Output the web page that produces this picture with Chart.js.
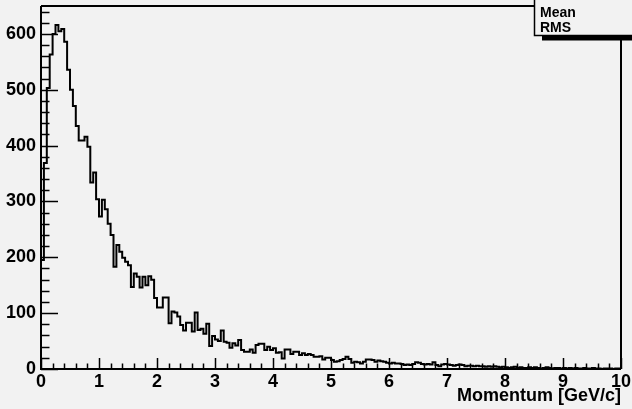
<!DOCTYPE html>
<html><head><meta charset="utf-8">
<script src="https://cdn.jsdelivr.net/npm/chart.js@4"></script>
<style>html,body{margin:0;padding:0;background:#f2f2f2;}canvas{display:block}</style>
</head><body>
<canvas id="c" width="632" height="409"></canvas>
<script>
// ---- data ----
const binWidth = 0.05;
const xStart = 0;
const counts = [
  30, 195, 369, 503, 563, 600, 616, 605, 609, 586,
  536, 500, 471, 435, 409, 409, 416, 398, 334, 352,
  304, 273, 303, 286, 260, 240, 183, 222, 210, 199,
  192, 186, 147, 171, 165, 146, 165, 150, 166, 160,
  127, 110, 110, 128, 128, 82, 103, 101, 94, 79,
  69, 83, 83, 67, 101, 70, 72, 63, 81, 41,
  59, 53, 50, 69, 49, 47, 38, 46, 42, 52,
  34, 31, 31, 35, 29, 43, 45, 45, 34, 40,
  34, 37, 29, 30, 19, 35, 35, 27, 31, 31,
  25, 28, 25, 27, 25, 22, 22, 23, 17, 20,
  20, 16, 13, 14, 16, 18, 22, 18, 11, 13,
  12, 10, 13, 17, 17, 16, 13, 15, 14, 13,
  11, 10, 11, 10, 10, 9, 7, 8, 7, 9,
  12, 11, 9, 8, 9, 8, 12, 7, 5, 8,
  9, 8, 7, 6, 7, 8, 7, 5, 6, 6,
  5, 6, 5, 5, 4, 5, 4, 5, 4, 3,
  4, 3, 2, 3, 4, 2, 3, 2, 2, 3,
  2, 3, 2, 1, 2, 3, 2, 1, 2, 2,
  1, 2, 1, 2, 1, 2, 1, 1, 2, 1,
  1, 2, 1, 1, 0, 1, 1, 1, 0, 1
];
const xTickLabels = [0,1,2,3,4,5,6,7,8,9,10];
const yTickLabels = [0,100,200,300,400,500,600];
const xMinorStep = 0.2;
const yMinorStep = 20;
const xMax = 10;
const yMax = 650;
const xTitle = 'Momentum [GeV/c]';
const statsLabels = ['Mean', 'RMS'];

// ---- build ----
const pts = counts.map((v, i) => ({x: xStart + i * binWidth, y: v}));
pts.push({x: xStart + counts.length * binWidth, y: counts[counts.length - 1]});

const FONT = '"Liberation Sans", Arial, Helvetica, sans-serif';
const BG = '#f2f2f2';

const rootPlugin = {
  id: 'rootStyle',
  beforeDraw(chart) {
    const ctx = chart.ctx;
    ctx.save();
    ctx.fillStyle = BG;
    ctx.fillRect(0, 0, chart.width, chart.height);
    ctx.restore();
  },
  afterDatasetsDraw(chart) {
    const ctx = chart.ctx;
    const a = chart.chartArea;
    const xs = chart.scales.x, ys = chart.scales.y;
    ctx.save();
    ctx.strokeStyle = '#000';
    ctx.lineWidth = 2;
    ctx.beginPath();
    ctx.moveTo(a.left, a.top); ctx.lineTo(a.right, a.top); ctx.lineTo(a.right, a.bottom);
    ctx.stroke();
    ctx.beginPath();
    ctx.moveTo(a.left, a.top); ctx.lineTo(a.left, a.bottom); ctx.lineTo(a.right, a.bottom);
    ctx.stroke();
    ctx.lineWidth = 1.5;
    ctx.beginPath();
    for (let v = 0; v <= xMax + 1e-9; v += xMinorStep) {
      const px = Math.round(xs.getPixelForValue(v)) + 0.5;
      const major = Math.abs(v - Math.round(v)) < 1e-6;
      ctx.moveTo(px, a.bottom);
      ctx.lineTo(px, a.bottom - (major ? 11 : 5.5));
    }
    for (let v = 0; v <= yMax - 1e-9; v += yMinorStep) {
      const py = Math.round(ys.getPixelForValue(v)) + 0.5;
      const major = v % 100 === 0;
      ctx.moveTo(a.left, py);
      ctx.lineTo(a.left + (major ? 17 : 8.5), py);
    }
    ctx.stroke();
    // stats box with shadow
    ctx.fillStyle = '#000';
    ctx.fillRect(542, 36, 100, 4.5);
    ctx.fillStyle = BG;
    ctx.fillRect(534, -2, 110, 37.5);
    ctx.lineWidth = 1.5;
    ctx.strokeRect(534.5, -2, 110, 37.5);
    ctx.fillStyle = '#000';
    ctx.font = 'bold 14px ' + FONT;
    ctx.textAlign = 'left';
    ctx.textBaseline = 'alphabetic';
    ctx.fillText(statsLabels[0], 540, 16.5);
    ctx.fillText(statsLabels[1], 540, 32);
    ctx.restore();
  }
};

new Chart(document.getElementById('c'), {
  type: 'line',
  data: {
    datasets: [{
      data: pts,
      stepped: 'after',
      borderColor: '#000',
      borderWidth: 2,
      pointRadius: 0,
      fill: false,
      tension: 0
    }]
  },
  options: {
    responsive: false,
    animation: false,
    devicePixelRatio: 1,
    layout: {padding: {top: 6, right: 11, left: 0, bottom: 0}},
    plugins: {legend: {display: false}, tooltip: {enabled: false}},
    scales: {
      x: {
        type: 'linear', min: 0, max: xMax,
        afterBuildTicks: s => { s.ticks = xTickLabels.map(v => ({value: v})); },
        afterFit: s => { s.height = 40; s.paddingLeft = 0; s.paddingRight = 0; },
        grid: {display: false, drawTicks: false},
        border: {display: false},
        ticks: {color: '#000', font: {family: FONT, weight: 'bold', size: 18}, padding: 2, maxRotation: 0, autoSkip: false},
        title: {display: true, text: xTitle, align: 'end', color: '#000',
                font: {family: FONT, weight: 'bold', size: 18}, padding: {top: 0, bottom: 2}}
      },
      y: {
        type: 'linear', min: 0, max: yMax,
        afterBuildTicks: s => { s.ticks = yTickLabels.map(v => ({value: v})); },
        afterFit: s => { s.width = 41; s.paddingTop = 0; s.paddingBottom = 0; },
        grid: {display: false, drawTicks: false},
        border: {display: false},
        ticks: {color: '#000', font: {family: FONT, weight: 'bold', size: 18}, padding: 5}
      }
    }
  },
  plugins: [rootPlugin]
});
</script>
</body></html>
